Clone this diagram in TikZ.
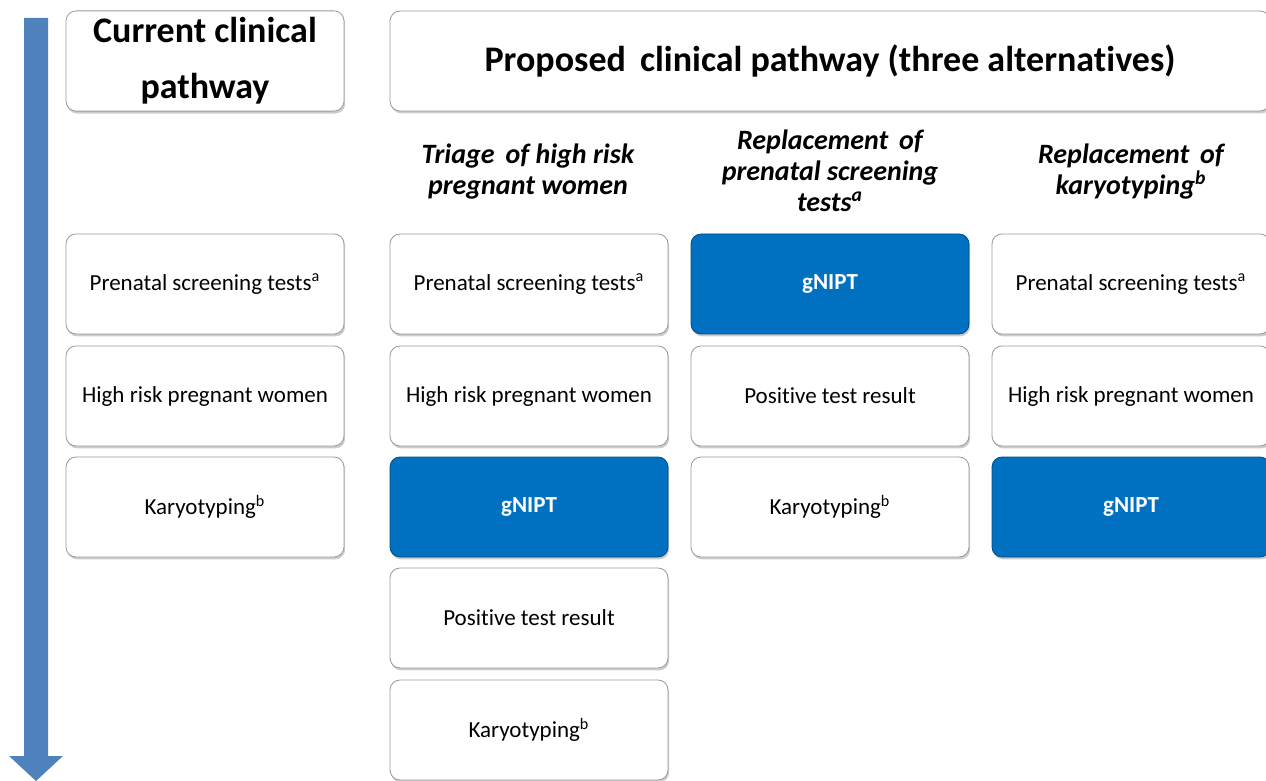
\documentclass[tikz,border=0pt]{standalone}
\usepackage{fontspec}
\setmainfont{Carlito}[Ligatures=NoCommon]
\usetikzlibrary{shadows,positioning}
\definecolor{flowblue}{RGB}{79,129,189}
\definecolor{niptblue}{RGB}{0,112,192}

\begin{document}
\begin{tikzpicture}[x=0.5pt,y=-0.5pt,
    box/.style={draw=black!40, fill=white, rounded corners=5pt,
        minimum width=139pt, minimum height=50pt, align=center,
        font=\fontsize{11.5}{13}\selectfont,
        drop shadow={shadow xshift=0.6pt, shadow yshift=-1.2pt, fill=black!40}},
    nipt/.style={box, fill=niptblue, draw=niptblue!70!black, text=white,
        font=\fontsize{11.5}{13}\selectfont\bfseries},
    headbox/.style={box, font=\fontsize{18}{28}\selectfont\bfseries},
    colhead/.style={align=center, font=\fontsize{14}{15.5}\selectfont\bfseries\itshape}]
    \useasboundingbox (0,0) rectangle (1266,781);
    % Time arrow on the left
    \fill[flowblue] (24,18) -- (48,18) -- (48,756) -- (63,756) -- (36,781)
        -- (9,756) -- (24,756) -- cycle;
    % Headers
    \node[headbox] (current) at (205,61) {Current clinical\\pathway};
    \node[headbox, minimum width=440pt] (proposed) at (830,61)
        {Proposed\, clinical pathway (three alternatives)};
    \node[colhead] (triage) at (528,172) {Triage\, of high risk\\pregnant women};
    \node[colhead] (replscreen) at (830,171)
        {Replacement\, of\\prenatal screening\\tests\textsuperscript{a}};
    \node[colhead] (replkaryo) at (1131,172)
        {Replacement\, of\\karyotyping\textsuperscript{b}};
    % Current pathway
    \node[box] (cur1) at (205,284) {Prenatal screening tests\textsuperscript{a}};
    \node[box] (cur2) at (205,396) {High risk pregnant women};
    \node[box] (cur3) at (205,507) {Karyotyping\textsuperscript{b}};
    % Triage
    \node[box] (tri1) at (529,284) {Prenatal screening tests\textsuperscript{a}};
    \node[box] (tri2) at (529,396) {High risk pregnant women};
    \node[nipt] (tri3) at (529,507) {gNIPT};
    \node[box] (tri4) at (529,618) {Positive test result};
    \node[box] (tri5) at (529,730) {Karyotyping\textsuperscript{b}};
    % Replacement of screening tests
    \node[nipt] (rps1) at (830,284) {gNIPT};
    \node[box] (rps2) at (830,396) {Positive test result};
    \node[box] (rps3) at (830,507) {Karyotyping\textsuperscript{b}};
    % Replacement of karyotyping
    \node[box] (rkt1) at (1131,284) {Prenatal screening tests\textsuperscript{a}};
    \node[box] (rkt2) at (1131,396) {High risk pregnant women};
    \node[nipt] (rkt3) at (1131,507) {gNIPT};
\end{tikzpicture}
\end{document}
